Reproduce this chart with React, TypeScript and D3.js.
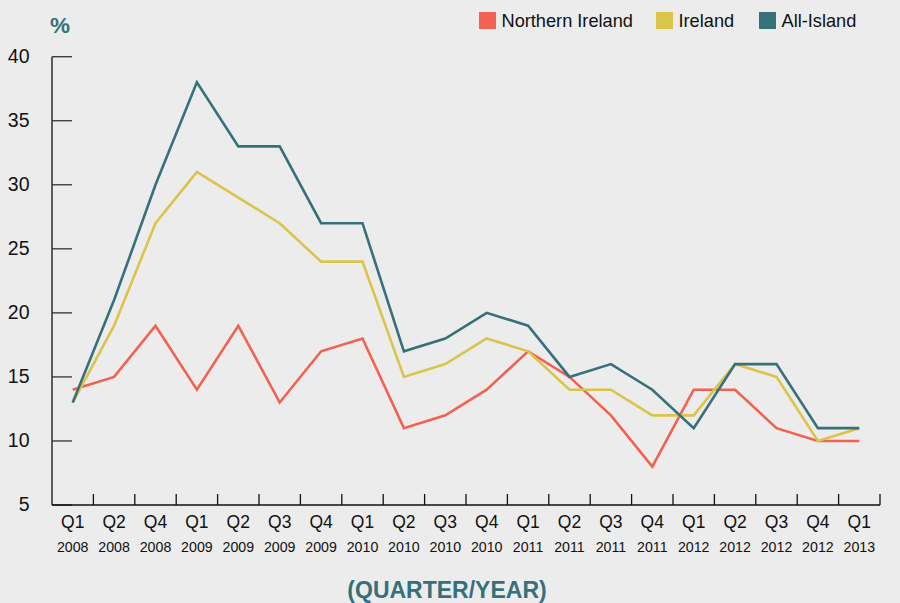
import React, { useEffect, useRef } from 'react';
import * as d3 from 'd3';

const quarters = ['Q1', 'Q2', 'Q4', 'Q1', 'Q2', 'Q3', 'Q4', 'Q1', 'Q2', 'Q3', 'Q4', 'Q1', 'Q2', 'Q3', 'Q4', 'Q1', 'Q2', 'Q3', 'Q4', 'Q1'];
const years = ['2008', '2008', '2008', '2009', '2009', '2009', '2009', '2010', '2010', '2010', '2010', '2011', '2011', '2011', '2011', '2012', '2012', '2012', '2012', '2013'];

const northernIreland = [14, 15, 19, 14, 19, 13, 17, 18, 11, 12, 14, 17, 15, 12, 8, 14, 14, 11, 10, 10];
const ireland = [13, 19, 27, 31, 29, 27, 24, 24, 15, 16, 18, 17, 14, 14, 12, 12, 16, 15, 10, 11];
const allIsland = [13, 21, 30, 38, 33, 33, 27, 27, 17, 18, 20, 19, 15, 16, 14, 11, 16, 16, 11, 11];

const yTicks = [5, 10, 15, 20, 25, 30, 35, 40];

const series = [
  { name: 'Northern Ireland', values: northernIreland, color: '#f26152' },
  { name: 'Ireland', values: ireland, color: '#dbc44a' },
  { name: 'All-Island', values: allIsland, color: '#36717b' },
];

const FONT = '"Liberation Sans", Arial, Helvetica, sans-serif';
const TEAL = '#36717b';

export default function App() {
  const svgRef = useRef<SVGSVGElement>(null);

  useEffect(() => {
    if (!svgRef.current) return;
    const width = 900;
    const height = 603;
    const left = 52;
    const right = 880;
    const top = 56.7;
    const bottom = 505;

    const svg = d3.select(svgRef.current);
    svg.selectAll('*').remove();
    svg.attr('width', width).attr('height', height);

    svg.append('rect').attr('width', width).attr('height', height).attr('fill', '#ececec');

    const idx = quarters.map((_, i) => String(i));
    const x = d3.scaleBand().domain(idx).range([left, right]);
    const y = d3.scaleLinear().domain([5, 40]).range([bottom, top]);

    // y axis
    const g = svg.append('g').attr('font-family', FONT);
    g.append('line')
      .attr('x1', left).attr('x2', left)
      .attr('y1', top).attr('y2', bottom)
      .attr('stroke', '#111').attr('stroke-width', 1.3);
    g.selectAll('.ytick')
      .data(yTicks)
      .enter()
      .append('line')
      .attr('x1', left).attr('x2', left + 20)
      .attr('y1', d => y(d)).attr('y2', d => y(d))
      .attr('stroke', '#333').attr('stroke-width', 1.3);
    g.selectAll('.ylabel')
      .data(yTicks)
      .enter()
      .append('text')
      .attr('x', 29.5)
      .attr('y', d => y(d) + 5.8)
      .attr('text-anchor', 'end')
      .attr('font-size', 19.5)
      .attr('fill', '#111')
      .text(d => d);

    // x axis
    g.append('line')
      .attr('x1', left).attr('x2', right)
      .attr('y1', bottom).attr('y2', bottom)
      .attr('stroke', '#111').attr('stroke-width', 1.3);
    const tickPos = idx.slice(1).map(i => x(i) as number).concat([right]);
    g.selectAll('.xtick')
      .data(tickPos)
      .enter()
      .append('line')
      .attr('x1', d => d).attr('x2', d => d)
      .attr('y1', bottom - 11).attr('y2', bottom)
      .attr('stroke', '#111').attr('stroke-width', 1.3);
    const bw = x.bandwidth() / 2;
    g.selectAll('.qlabel')
      .data(quarters)
      .enter()
      .append('text')
      .attr('x', (_, i) => (x(String(i)) as number) + bw)
      .attr('y', 527.5)
      .attr('text-anchor', 'middle')
      .attr('font-size', 17.5)
      .attr('fill', '#111')
      .text(d => d);
    g.selectAll('.ylab')
      .data(years)
      .enter()
      .append('text')
      .attr('x', (_, i) => (x(String(i)) as number) + bw)
      .attr('y', 552.3)
      .attr('text-anchor', 'middle')
      .attr('font-size', 14.2)
      .attr('fill', '#111')
      .text(d => d);

    // axis titles
    g.append('text')
      .attr('x', 60).attr('y', 32.5)
      .attr('text-anchor', 'middle')
      .attr('font-size', 22.5).attr('font-weight', 'bold')
      .attr('fill', TEAL)
      .text('%');
    g.append('text')
      .attr('x', 447).attr('y', 597.5)
      .attr('text-anchor', 'middle')
      .attr('font-size', 23).attr('font-weight', 'bold')
      .attr('fill', TEAL)
      .text('(QUARTER/YEAR)');

    // lines
    const line = d3.line<number>()
      .x((_, i) => (x(String(i)) as number) + bw)
      .y(d => y(d));
    svg.append('g')
      .selectAll('path')
      .data(series)
      .enter()
      .append('path')
      .attr('d', d => line(d.values))
      .attr('fill', 'none')
      .attr('stroke', d => d.color)
      .attr('stroke-width', 2.6)
      .attr('stroke-linejoin', 'miter');

    // legend
    const legendX = [479, 656, 759];
    const lg = svg.append('g').attr('font-family', FONT);
    const items = lg.selectAll('.item')
      .data(series)
      .enter()
      .append('g')
      .attr('transform', (_, i) => `translate(${legendX[i]},12)`);
    items.append('rect')
      .attr('width', 17).attr('height', 17)
      .attr('fill', d => d.color);
    items.append('text')
      .attr('x', 22.5).attr('y', 8.5)
      .attr('dy', '0.36em')
      .attr('font-size', 18.2)
      .attr('fill', '#111')
      .text(d => d.name);
  }, []);

  return (
    <div style={{ position: 'fixed', left: 0, top: 0 }}>
      <svg ref={svgRef} style={{ display: 'block' }} />
    </div>
  );
}
